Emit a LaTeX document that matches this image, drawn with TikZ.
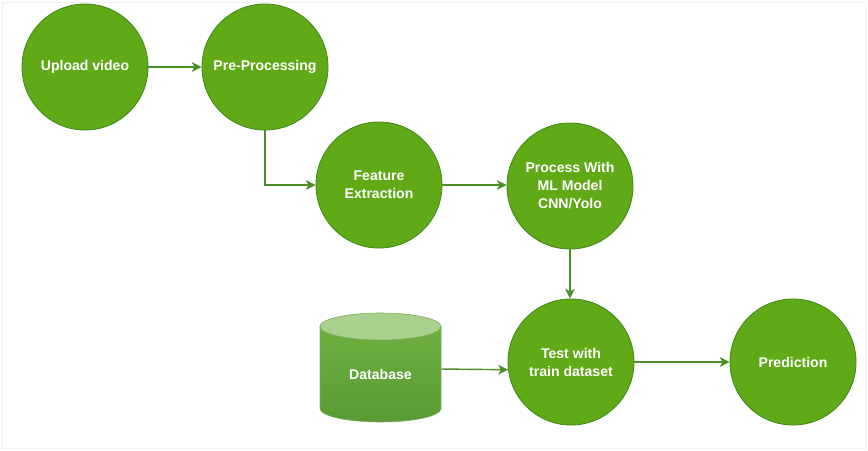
\documentclass[tikz,border=0pt]{standalone}
\usepackage{fontspec}
\setmainfont{Liberation Sans}
\usepackage{tikz}
\usetikzlibrary{arrows.meta}
\usetikzlibrary{positioning,calc}
\definecolor{stagegreen}{HTML}{60A917}
\definecolor{stageline}{HTML}{3F8A1A}
\definecolor{flowgreen}{HTML}{4A8F2A}
\definecolor{dbtop}{HTML}{A9D18E}
\definecolor{dbupper}{HTML}{6DB040}
\definecolor{dblower}{HTML}{5A9A34}
\definecolor{dbedge}{HTML}{78A95A}
\tikzset{
    stage/.style={
        draw=stageline,
        circle,
        fill=stagegreen,
        minimum size=3.15cm,
        inner sep=1pt,
        line width=0.6pt,
        align=center,
        text=white,
        font=\fontsize{10}{12.8}\selectfont\bfseries
    },
    flow/.style={
        draw=flowgreen,
        -{Stealth[length=7pt, width=7pt, inset=2pt]},
        line width=1pt
    }
}

\begin{document}
\begin{tikzpicture}[x=0.025cm, y=-0.025cm]
  \useasboundingbox (0,0) rectangle (868,450);
  \draw[black!6] (2,2) rectangle (866,448);

  % pipeline stages
  \node[stage] (upload) at (85,67) {Upload video};
  \node[stage] (prep) at (265,67) {Pre-Processing};
  \node[stage] (feat) at (379,185) {Feature\\Extraction};
  \node[stage] (proc) at (570,186) {Process With\\ML Model\\CNN/Yolo};
  \node[stage] (test) at (571,362) {Test with\\train dataset};
  \node[stage] (pred) at (793,362) {Prediction};

  % database cylinder
  \shade[top color=dbupper, bottom color=dblower, draw=dbedge, line width=0.4pt]
    (320,326.5) -- (320,408.5)
    arc[start angle=180, end angle=0, x radius=60.5, y radius=13.5]
    -- (441,326.5) -- cycle;
  \filldraw[fill=dbtop, draw=dbedge, line width=0.4pt]
    (380.5,326.5) ellipse[x radius=60.5, y radius=13.5];
  \node[minimum width=3.025cm, minimum height=2.5cm, inner sep=0pt,
        text=white, font=\fontsize{10}{12.8}\selectfont\bfseries]
    (db) at (380.5,374) {Database};

  % connections
  \draw[flow] (upload) -- (prep);
  \draw[flow] (prep.south) |- (feat.west);
  \draw[flow] (feat.east) -- (proc.west |- feat.east);
  \draw[flow] (proc.south) -- (test.north -| proc.south);
  \draw[flow] ($(db.east)+(0,-5)$) -- (test.187);
  \draw[flow] (test) -- (pred);
\end{tikzpicture}
\end{document}
